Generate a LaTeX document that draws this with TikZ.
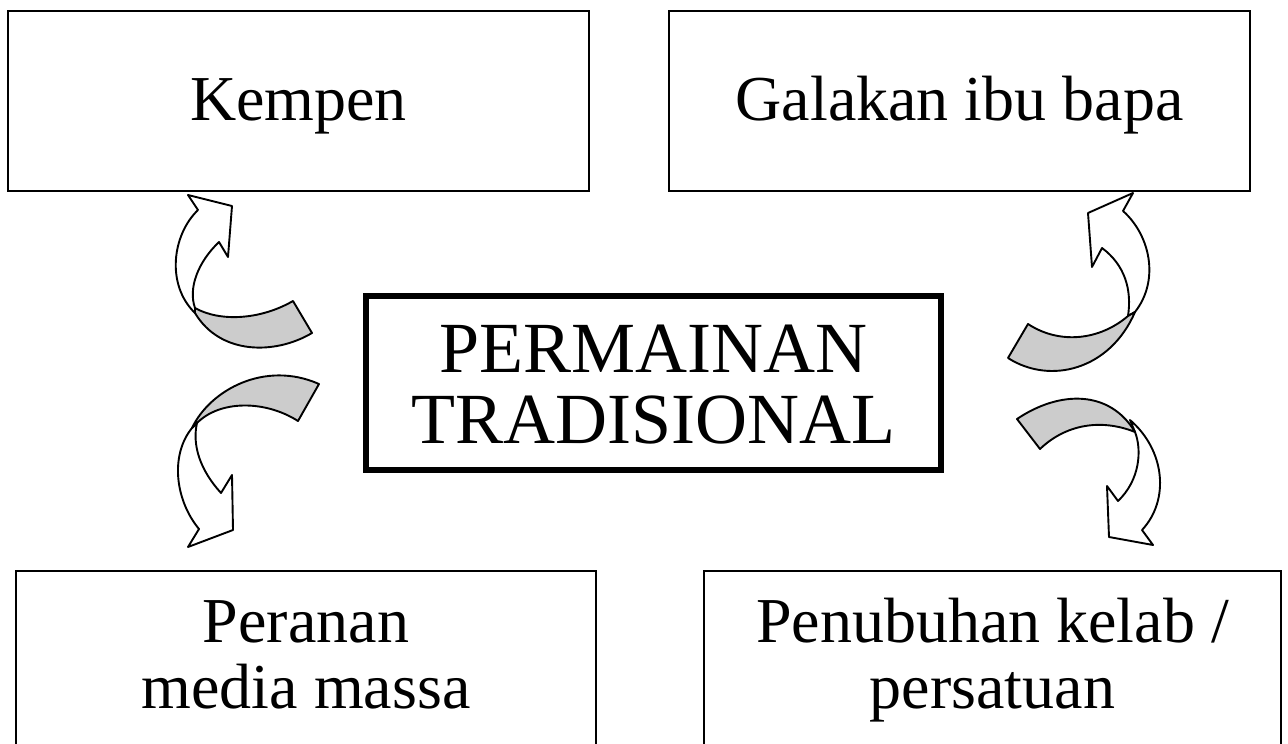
\documentclass[tikz,border=0pt]{standalone}
\usepackage{fontspec}
\setmainfont{Liberation Serif}
\usepackage{tikz}
\tikzset{
  box/.style={draw, line width=1.8pt, inner sep=0pt, align=center,
    font=\fontsize{64}{66}\selectfont},
  topbox/.style={box, minimum width=581pt, minimum height=180pt,
    text height=48pt, text depth=10pt},
  lowbox/.style={box, minimum height=176pt, text height=112pt, text depth=14pt},
  mainbox/.style={box, line width=6pt, minimum width=575pt, minimum height=174pt,
    font=\fontsize{72}{71}\selectfont, text height=130pt, text depth=10pt},
  arrowbody/.style={draw, fill=white, line width=1.9pt, line join=round},
  arrowband/.style={arrowbody, fill=gray!40}
}

\begin{document}
\begin{tikzpicture}[x=1pt,y=-1pt]
        \useasboundingbox (0,0) rectangle (1288,744);

        %nodes
        \node[topbox] (kempen) at (298.5,101) {Kempen};
        \node[topbox] (galakan) at (959.5,101) {Galakan ibu bapa};
        \node[mainbox] (permainan) at (653.5,383) {PERMAINAN\\TRADISIONAL};
        \node[lowbox, minimum width=580pt] (peranan) at (306,659) {Peranan\\media massa};
        \node[lowbox, minimum width=577pt] (penubuhan) at (992.5,659) {Penubuhan kelab /\\persatuan};

        %top left arrow
        \draw[arrowbody] (195,308) .. controls (188,288) and (198,262) .. (219,242) -- (228,257)
          -- (232,206) -- (188,195) -- (198,210) .. controls (172,235) and (166,285) .. (195,313) -- cycle;
        \draw[arrowband] (195,308) .. controls (220,322) and (260,320) .. (293,301) -- (312,333)
          .. controls (275,355) and (220,355) .. (195,313) -- cycle;

        %bottom left arrow
        \draw[arrowbody] (192,428) .. controls (170,455) and (175,500) .. (199,529) -- (188,547)
          -- (233,530) -- (232,475) -- (221,493) .. controls (200,470) and (192,445) .. (197,423) -- cycle;
        \draw[arrowband] (192,428) .. controls (210,390) and (265,360) .. (319,384) -- (298,421)
          .. controls (265,400) and (220,400) .. (197,423) -- cycle;

        %top right arrow
        \draw[arrowbody] (1128,316) .. controls (1132,290) and (1125,265) .. (1102,248) -- (1092,267)
          -- (1088,213) -- (1133,193) -- (1123,211) .. controls (1150,235) and (1160,280) .. (1135,312) -- cycle;
        \draw[arrowband] (1128,316) .. controls (1100,340) and (1060,345) .. (1028,324) -- (1008,358)
          .. controls (1050,385) and (1110,370) .. (1135,312) -- cycle;

        %bottom right arrow
        \draw[arrowbody] (1135,432) .. controls (1142,450) and (1140,480) .. (1118,501) -- (1107,486)
          -- (1109,537) -- (1153,545) -- (1142,530) .. controls (1170,500) and (1165,450) .. (1130,420) -- cycle;
        \draw[arrowband] (1017,419) .. controls (1060,390) and (1110,390) .. (1135,432)
          .. controls (1100,418) and (1065,425) .. (1040,449) -- cycle;
\end{tikzpicture}
\end{document}
